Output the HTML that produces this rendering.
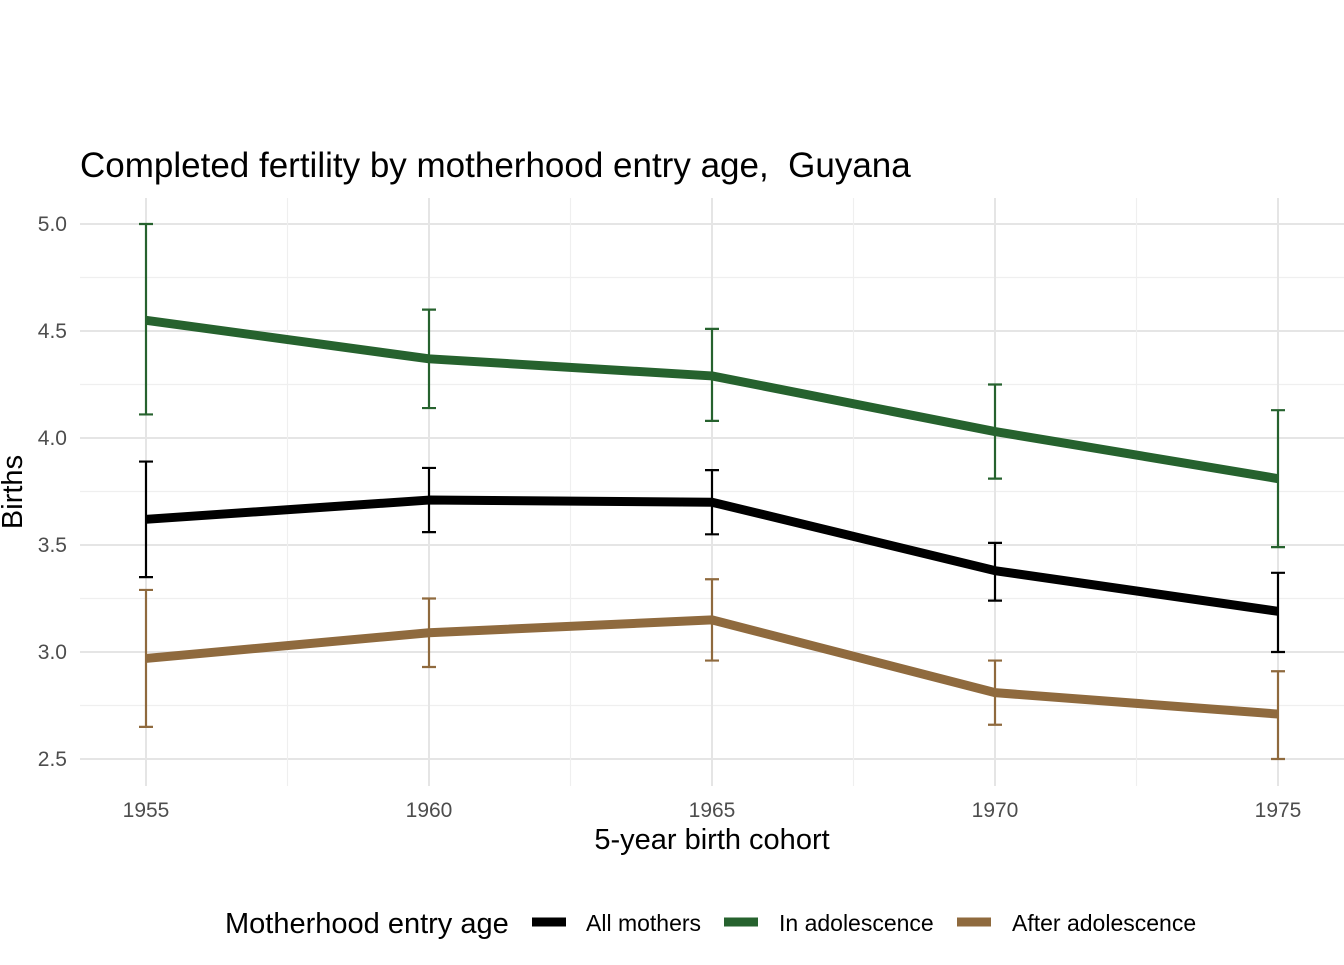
<!DOCTYPE html>
<html><head><meta charset="utf-8"><style>
body{margin:0;background:#fff;}
svg text{font-family:"Liberation Sans",Arial,sans-serif;}
</style></head><body>
<svg id="chart" width="1344" height="960" xmlns="http://www.w3.org/2000/svg">
<rect width="1344" height="960" fill="#fff"/>
<text x="80" y="177" font-size="35" fill="#000" xml:space="preserve" style="white-space:pre">Completed fertility by motherhood entry age,  Guyana</text>
<g id="grid"></g><g id="marks"></g><g id="axes"></g>
<text x="712" y="849" font-size="29" text-anchor="middle">5-year birth cohort</text>
<text transform="translate(22,492) rotate(-90)" font-size="29" text-anchor="middle">Births</text>
<g>
<text x="225" y="933" font-size="29">Motherhood entry age</text>
<line x1="532" y1="922" x2="566" y2="922" stroke="#000" stroke-width="9"/>
<text x="586" y="931" font-size="23">All mothers</text>
<line x1="724" y1="922" x2="758" y2="922" stroke="#26622e" stroke-width="9"/>
<text x="779" y="931" font-size="23">In adolescence</text>
<line x1="957" y1="922" x2="991" y2="922" stroke="#8f6a3e" stroke-width="9"/>
<text x="1012" y="931" font-size="23">After adolescence</text>
</g>
</svg>
<script>
const years=[1955,1960,1965,1970,1975];
const yTicks=[2.5,3.0,3.5,4.0,4.5,5.0];
const allMean=[3.62,3.71,3.70,3.38,3.19];
const allLo=[3.35,3.56,3.55,3.24,3.00];
const allHi=[3.89,3.86,3.85,3.51,3.37];
const adoMean=[4.55,4.37,4.29,4.03,3.81];
const adoLo=[4.11,4.14,4.08,3.81,3.49];
const adoHi=[5.00,4.60,4.51,4.25,4.13];
const aftMean=[2.97,3.09,3.15,2.81,2.71];
const aftLo=[2.65,2.93,2.96,2.66,2.50];
const aftHi=[3.29,3.25,3.34,2.96,2.91];
const X=v=>146+(v-1955)*(1278-146)/20;
const Y=v=>759-(v-2.5)*(759-224)/2.5;
const NS="http://www.w3.org/2000/svg";
function mk(parent,tag,attrs){const e=document.createElementNS(NS,tag);for(const k in attrs)e.setAttribute(k,attrs[k]);parent.appendChild(e);return e;}
const grid=document.getElementById('grid'),marks=document.getElementById('marks'),axes=document.getElementById('axes');
for(let i=0;i<yTicks.length;i++){
 const v=yTicks[i];
 const l=mk(grid,'line',{x1:80,x2:1344,y1:Y(v),y2:Y(v),stroke:'#e5e5e5','stroke-width':2});
 
 
 if(i<yTicks.length-1){const m=mk(grid,'line',{x1:80,x2:1344,y1:Y(v+0.25),y2:Y(v+0.25),stroke:'#efefef','stroke-width':1.2});
 
 }
 const t=mk(axes,'text',{x:67,y:Y(v)+7,'font-size':21,fill:'#4d4d4d','text-anchor':'end'});t.textContent=v.toFixed(1);
 
 
}
for(let i=0;i<years.length;i++){
 const v=years[i];
 const l=mk(grid,'line',{x1:X(v),x2:X(v),y1:198,y2:786,stroke:'#e5e5e5','stroke-width':2});
 
 
 if(i<years.length-1){const m=mk(grid,'line',{x1:X(v+2.5),x2:X(v+2.5),y1:198,y2:786,stroke:'#efefef','stroke-width':1.2});
 
 }
 const t=mk(axes,'text',{x:X(v),y:817,'font-size':21,fill:'#4d4d4d','text-anchor':'middle'});t.textContent=v;
 
 
}
function series(mean,lo,hi,color,name){
 const g=mk(marks,'g',{});
 
 
 const pts=years.map((y,i)=>X(y)+','+Y(mean[i])).join(' ');
 const pl=mk(g,'polyline',{points:pts,fill:'none',stroke:color,'stroke-width':9,'stroke-linejoin':'round'});
 
 
 years.forEach((y,i)=>{
  const x=X(y);
  const p=mk(g,'path',{d:`M${x-7},${Y(hi[i])}H${x+7}M${x},${Y(hi[i])}V${Y(lo[i])}M${x-7},${Y(lo[i])}H${x+7}`,stroke:color,'stroke-width':2.2,fill:'none'});
  
  
 });
}
series(adoMean,adoLo,adoHi,'#26622e','in-adolescence');
series(aftMean,aftLo,aftHi,'#8f6a3e','after-adolescence');
series(allMean,allLo,allHi,'#000000','all-mothers');
</script>
</body></html>
